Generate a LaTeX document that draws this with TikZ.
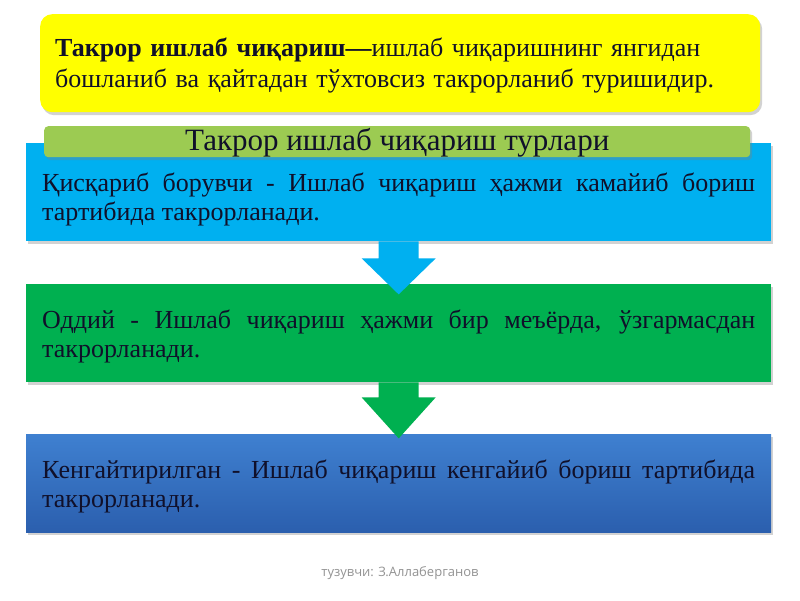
\documentclass[tikz,border=0pt]{standalone}
\usepackage{fontspec}
\setmainfont{Liberation Serif}
\newfontfamily\footfont{Open Sans}
\usetikzlibrary{shadows,calc}
\definecolor{txt}{HTML}{10102A}
\definecolor{yel}{HTML}{FFFF00}
\definecolor{hdr}{HTML}{9CCB52}
\definecolor{sky}{HTML}{00B0F0}
\definecolor{grn}{HTML}{00B050}
\definecolor{dblueT}{HTML}{3F80D0}
\definecolor{dblueB}{HTML}{2B5FAE}
\tikzset{
  shad/.style={drop shadow={shadow xshift=2pt,shadow yshift=-3pt,opacity=0.35,fill=gray}},
  card/.style={shad,anchor=north west,inner sep=0pt,minimum width=745pt,minimum height=98pt},
  body/.style={anchor=north west,text width=713pt,align=justify,inner sep=0pt,text=txt,font=\fontsize{26}{28.5}\selectfont},
}
\begin{document}
\begin{tikzpicture}[x=1pt,y=-1pt]
\useasboundingbox (0,0) rectangle (800,600);
\fill[white] (0,0) rectangle (800,600);
% top definition box
\node[shad,fill=yel,rounded corners=12pt,anchor=north west,minimum width=720pt,minimum height=98pt,inner sep=0pt] (def) at (40,14) {};
\node[anchor=north west,text width=705pt,align=left,inner sep=0pt,text=txt,font=\fontsize{26}{31}\selectfont] (deft) at (55,38)
  {\textbf{Такрор ишлаб чиқариш—}ишлаб чиқаришнинг янгидан\\ бошланиб ва қайтадан тўхтовсиз такрорланиб туришидир.};
% box 1
\node[card,fill=sky] (b1) at (26,143) {};
\node[body] (t1) at (42,173) {Қисқариб борувчи - Ишлаб чиқариш ҳажми камайиб бориш тартибида такрорланади.};
% header
\node[shad,fill=hdr,rounded corners=4pt,anchor=north west,minimum width=706pt,minimum height=31pt,inner sep=0pt] (hd) at (44,126) {};
\node[text=txt,font=\fontsize{31}{34}\selectfont,inner sep=0pt,yshift=-1.5pt] (hdt) at (hd.center) {Такрор ишлаб чиқариш турлари};
% box 2
\node[card,fill=grn] (b2) at (26,284) {};
\node[body] (t2) at (42,310) {Оддий - Ишлаб чиқариш ҳажми бир меъёрда, ўзгармасдан такрорланади.};
% box 3
\node[card,top color=dblueT,bottom color=dblueB] (b3) at (26,434) {};
\node[body] (t3) at (42,460) {Кенгайтирилган - Ишлаб чиқариш кенгайиб бориш тартибида такрорланади.};
% arrows
\fill[sky] ($(b1.south)+(-20,0)$) -- ($(b1.south)+(20,0)$) -- ($(b1.south)+(20,17)$) -- ($(b1.south)+(37,17)$)
  -- ($(b1.south)+(0,53)$) -- ($(b1.south)+(-37,17)$) -- ($(b1.south)+(-20,17)$) -- cycle;
\fill[grn] ($(b2.south)+(-20,0)$) -- ($(b2.south)+(20,0)$) -- ($(b2.south)+(20,15)$) -- ($(b2.south)+(37,15)$)
  -- ($(b2.south)+(0,56)$) -- ($(b2.south)+(-37,15)$) -- ($(b2.south)+(-20,15)$) -- cycle;
% footer
\node[text=gray!85,font=\footfont\fontsize{13}{15}\selectfont] (ft) at (400,573) {тузувчи: З.Аллаберганов};
\end{tikzpicture}
\end{document}
